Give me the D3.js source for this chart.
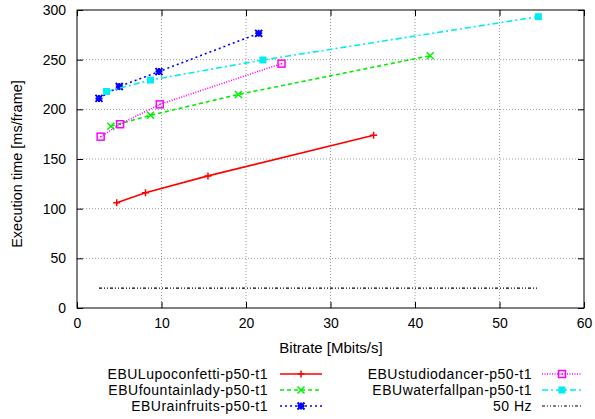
<!DOCTYPE html>
<html><head><meta charset="utf-8">
<script src="https://cdn.jsdelivr.net/npm/d3@7"></script>
<style>body{margin:0;background:#fff}svg{display:block;font-family:"Liberation Sans",Arial,sans-serif}</style>
</head><body><svg id="c" width="595" height="419"></svg>
<script>
const seriesNames = ["EBULupoconfetti-p50-t1","EBUfountainlady-p50-t1","EBUrainfruits-p50-t1","EBUstudiodancer-p50-t1","EBUwaterfallpan-p50-t1"];
const lupoX = [4.7, 8.1, 15.5, 35.1];
const lupoY = [106, 116, 133, 174];
const fountainX = [4.0, 8.7, 19.1, 41.8];
const fountainY = [183, 194, 215, 254];
const rainX = [2.6, 5.0, 9.7, 21.5];
const rainY = [211, 223, 238, 276.5];
const studioX = [2.8, 5.1, 9.8, 24.2];
const studioY = [172.5, 185, 205, 246];
const waterX = [3.5, 8.7, 22.0, 54.6];
const waterY = [218, 229.5, 249.7, 293.3];
const hzX = [2.6, 54.6];
const hzY = [20, 20];
const xTicks = [0,10,20,30,40,50,60];
const yTicks = [0,50,100,150,200,250,300];

const svg = d3.select("#c");
const L=77, R=584, T=10, B=308;
const x = d3.scaleLinear().domain([0,60]).range([L,R]);
const y = d3.scaleLinear().domain([0,300]).range([B,T]);

// grid
const g = svg.append("g");
xTicks.forEach(t=>{ if(t>0&&t<60) g.append("line").attr("x1",x(t)).attr("x2",x(t)).attr("y1",T).attr("y2",B).attr("stroke","#999").attr("stroke-dasharray","1,2"); });
yTicks.forEach(t=>{ if(t>0&&t<300) g.append("line").attr("x1",L).attr("x2",R).attr("y1",y(t)).attr("y2",y(t)).attr("stroke","#999").attr("stroke-dasharray","1,2"); });

// axes
const xa = svg.append("g").attr("transform",`translate(0,${B})`).call(d3.axisBottom(x).tickValues(xTicks).tickSizeInner(-6).tickSizeOuter(0).tickPadding(10));
const xt = svg.append("g").attr("transform",`translate(0,${T})`).call(d3.axisTop(x).tickValues(xTicks).tickSizeInner(-6).tickSizeOuter(0).tickFormat(""));
const ya = svg.append("g").attr("transform",`translate(${L},0)`).call(d3.axisLeft(y).tickValues(yTicks).tickSizeInner(-6).tickSizeOuter(0).tickPadding(11));
const yr = svg.append("g").attr("transform",`translate(${R},0)`).call(d3.axisRight(y).tickValues(yTicks).tickSizeInner(-6).tickSizeOuter(0).tickFormat(""));
[xa,xt,ya,yr].forEach(a=>{a.select(".domain").remove(); a.selectAll("line").attr("stroke","#000"); a.selectAll("text").attr("font-size",14).attr("fill","#000").attr("font-family","Liberation Sans,Arial,sans-serif");});
svg.append("rect").attr("x",L).attr("y",T).attr("width",R-L).attr("height",B-T).attr("fill","none").attr("stroke","#000").attr("stroke-width",1);

svg.append("text").attr("x",331).attr("y",353).attr("text-anchor","middle").attr("font-size",15).text("Bitrate [Mbits/s]");
svg.append("text").attr("transform","translate(22,164) rotate(-90)").attr("text-anchor","middle").attr("font-size",14.5).text("Execution time [ms/frame]");

const styles = [
 {c:"#ff0000", dash:null, m:"plus"},
 {c:"#00ee00", dash:"4,3", m:"cross"},
 {c:"#0000ff", dash:"2,3", m:"star"},
 {c:"#ff00ff", dash:"1,1.5", m:"box"},
 {c:"#00eeee", dash:"6,3,2,3", m:"fbox"}
];
const data = [[lupoX,lupoY],[fountainX,fountainY],[rainX,rainY],[studioX,studioY],[waterX,waterY]];
const line = d3.line().x(d=>x(d[0])).y(d=>y(d[1]));

function marker(sel, cx, cy, type, col){
  const s=3.5;
  if(type==="plus"){ sel.append("path").attr("d",`M${cx-s},${cy}H${cx+s}M${cx},${cy-s}V${cy+s}`).attr("stroke",col).attr("stroke-width",1.5); }
  else if(type==="cross"){ sel.append("path").attr("d",`M${cx-s},${cy-s}L${cx+s},${cy+s}M${cx-s},${cy+s}L${cx+s},${cy-s}`).attr("stroke",col).attr("stroke-width",1.5); }
  else if(type==="star"){ sel.append("path").attr("d",`M${cx-s},${cy}H${cx+s}M${cx},${cy-s}V${cy+s}M${cx-s},${cy-s}L${cx+s},${cy+s}M${cx-s},${cy+s}L${cx+s},${cy-s}`).attr("stroke",col).attr("stroke-width",2); }
  else if(type==="box"){ sel.append("rect").attr("x",cx-s).attr("y",cy-s).attr("width",2*s).attr("height",2*s).attr("fill","none").attr("stroke",col).attr("stroke-width",1.5);
     sel.append("rect").attr("x",cx-0.7).attr("y",cy-0.7).attr("width",1.4).attr("height",1.4).attr("fill",col); }
  else if(type==="fbox"){ sel.append("rect").attr("x",cx-s).attr("y",cy-s).attr("width",2*s).attr("height",2*s).attr("fill",col); }
}

data.forEach((d,i)=>{
  const pts = d[0].map((v,j)=>[v,d[1][j]]);
  const st = styles[i];
  const gg = svg.append("g");
  gg.append("path").attr("d",line(pts)).attr("fill","none").attr("stroke",st.c).attr("stroke-width",1.6).attr("stroke-dasharray",st.dash);
  pts.forEach(p=>marker(gg,x(p[0]),y(p[1]),st.m,st.c));
});
const hz = hzX.map((v,j)=>[v,hzY[j]]);
svg.append("path").attr("d",line(hz)).attr("fill","none").attr("stroke","#000").attr("stroke-width",1.2).attr("stroke-dasharray","3,2,1,2,1,2");

// legend
const leg = svg.append("g").attr("font-size",14).attr("letter-spacing","0.5px");
const legPos = [[268,280,322,374],[268,280,322,390],[268,280,322,406],[532,542,582,374],[532,542,582,390]];
seriesNames.forEach((n,i)=>{
  const [tx,x1,x2,ly]=legPos[i]; const st=styles[i];
  leg.append("text").attr("x",tx).attr("y",ly+5).attr("text-anchor","end").text(n);
  leg.append("line").attr("x1",x1).attr("x2",x2).attr("y1",ly).attr("y2",ly).attr("stroke",st.c).attr("stroke-width",1.6).attr("stroke-dasharray",st.dash);
  marker(leg,(x1+x2)/2,ly,st.m,st.c);
});
leg.append("text").attr("x",532).attr("y",406+5).attr("text-anchor","end").text("50 Hz");
leg.append("line").attr("x1",542).attr("x2",582).attr("y1",406).attr("y2",406).attr("stroke","#000").attr("stroke-width",1.2).attr("stroke-dasharray","3,2,1,2,1,2");
</script></body></html>
